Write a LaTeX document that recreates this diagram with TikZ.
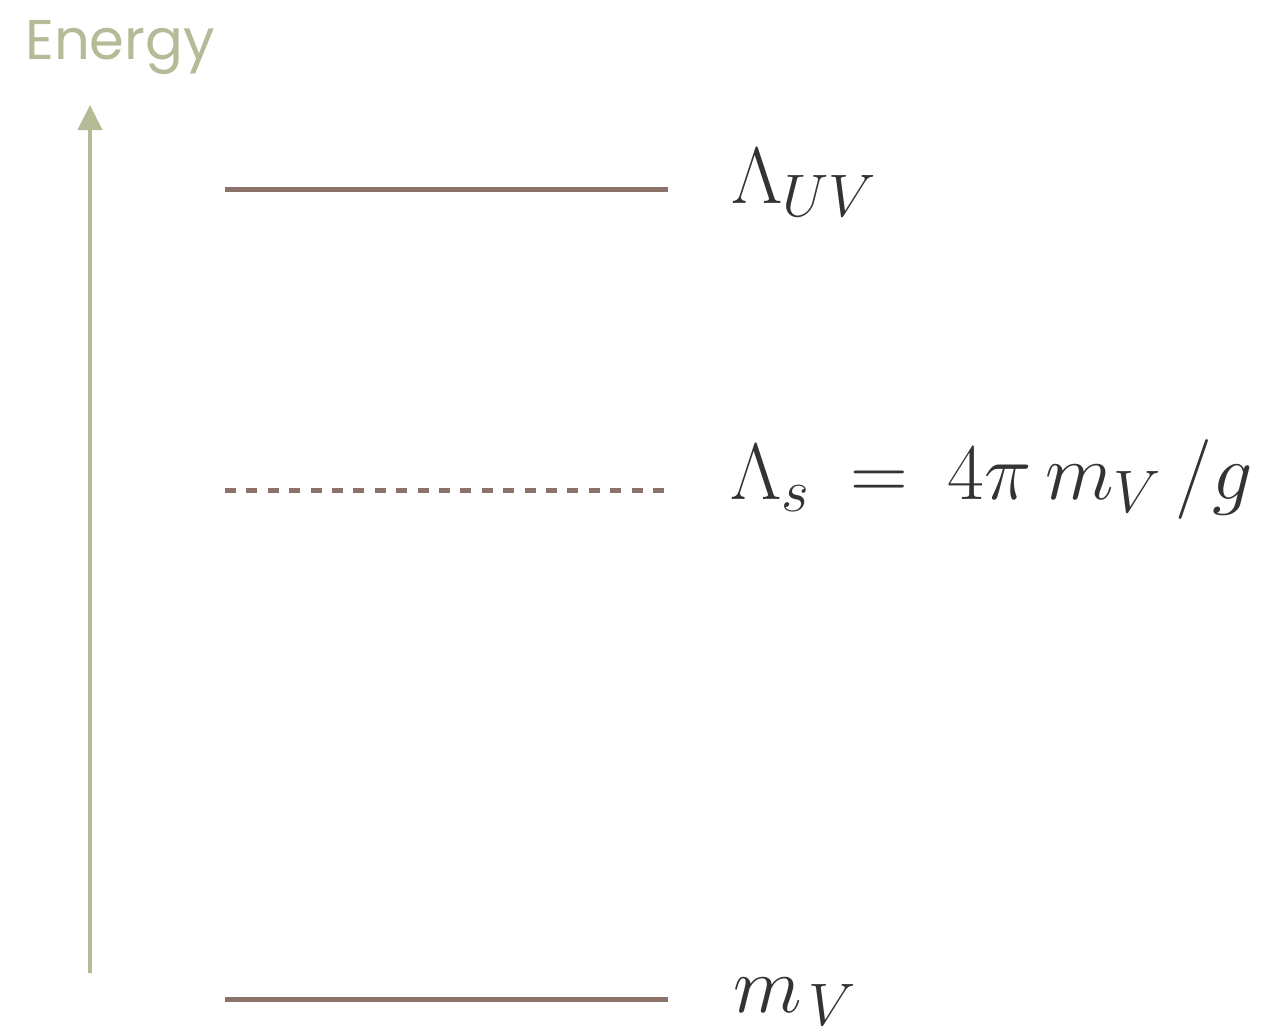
\documentclass[tikz,border=0pt]{standalone}
\usepackage{fix-cm}
\usepackage{fontspec}
\newfontfamily\energyfont{Poppins}
\usetikzlibrary{arrows.meta, positioning}
\definecolor{sageps}{RGB}{181,187,150}
\definecolor{brownps}{RGB}{140,115,105}
\definecolor{inkps}{RGB}{51,51,51}
\DeclareMathSizes{40}{40}{30}{22}

\begin{document}
\begin{tikzpicture}[x=0.5pt, y=-0.5pt, font=\fontsize{40}{48}\selectfont,
        level/.style={brownps, line width=2.5pt},
        fullline/.style={},
        gapline/.style={dash pattern=on 5.5pt off 5.2pt},
        lbl/.style={anchor=base west, inner sep=0pt, text=inkps}]
        \useasboundingbox (0,0) rectangle (1266,1025);
        % energy axis
        \node[anchor=base west, inner sep=0pt, text=sageps,
              font=\energyfont\fontsize{28}{34}\selectfont] (energy) at (25,59) {Energy};
        \coordinate (axbase) at (90,973);
        \coordinate (axtop) at (90,105);
        \draw[-{Triangle[length=12.5pt, width=12pt]}, sageps, line width=2pt] (axbase) -- (axtop);
        % levels
        \foreach \n/\y/\sty in {uv/189/fullline, s/490/gapline, mv/999/fullline}
        {
            \coordinate (\n a) at (225,\y);
            \coordinate (\n b) at (668,\y);
            \draw[level, \sty] (\n a) -- (\n b);
        }
        \node[lbl] (luv) at (731,203) {$\Lambda_{UV}$};
        \node[lbl] (ls) at (730,499) {$\Lambda_s \:=\: 4\pi\, m_V\,/g$};
        \node[lbl] (lmv) at (733,1012) {$m_{\mkern2mu V}$};
    \end{tikzpicture}
\end{document}
